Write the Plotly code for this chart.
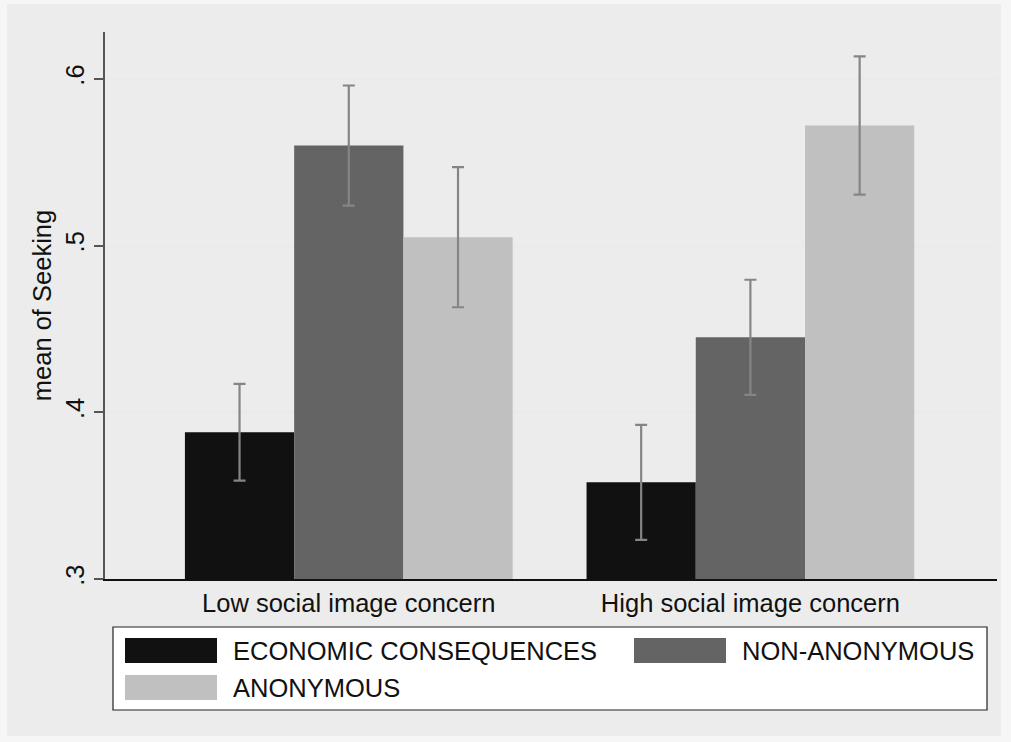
import plotly.graph_objects as go

# Data: mean of Seeking by social image concern and treatment, with CI half-widths
groups = ["Low social image concern", "High social image concern"]
series_names = ["ECONOMIC CONSEQUENCES", "NON-ANONYMOUS", "ANONYMOUS"]
econ_means = [0.388, 0.358]
econ_err = [0.029, 0.0345]
nonanon_means = [0.560, 0.445]
nonanon_err = [0.036, 0.0345]
anon_means = [0.505, 0.572]
anon_err = [0.042, 0.0415]

y_ticks = [0.3, 0.4, 0.5, 0.6]
y_tick_labels = [".3", ".4", ".5", ".6"]

colors = ["#111111", "#646464", "#c0c0c0"]
means = [econ_means, nonanon_means, anon_means]
errs = [econ_err, nonanon_err, anon_err]

W, H = 1011, 742
ML, MR, MT, MB = 105, 14, 32, 163
PW, PH = W - ML - MR, H - MT - MB
FONT = "Liberation Sans, Arial, sans-serif"
FS = 25.5

fig = go.Figure()
for name, m, e, c in zip(series_names, means, errs, colors):
    fig.add_trace(go.Bar(
        x=groups, y=m, name=name, marker=dict(color=c, line=dict(width=0)),
        error_y=dict(type="data", array=e, visible=True, color="#858585",
                     thickness=2.2, width=6),
        showlegend=False,
    ))


def px_x(px):
    return (px - ML) / PW


def px_y(py):
    return (H - MB - py) / PH


shapes = [
    # outer gray panel
    dict(type="rect", xref="paper", yref="paper", x0=px_x(7), x1=px_x(1001),
         y0=px_y(736), y1=px_y(4), fillcolor="#ececec", line=dict(width=0),
         layer="below"),
    # legend frame
    dict(type="rect", xref="paper", yref="paper", x0=px_x(113), x1=px_x(987),
         y0=px_y(710), y1=px_y(627), fillcolor="white",
         line=dict(color="#222222", width=1.2), layer="below"),
]
annotations = []

# legend entries: (swatch left, swatch top) per series
legend_pos = [(125, 638), (634, 638), (125, 675)]
for (sx, sy), name, c in zip(legend_pos, series_names, colors):
    shapes.append(dict(type="rect", xref="paper", yref="paper",
                       x0=px_x(sx), x1=px_x(sx + 92), y0=px_y(sy + 25), y1=px_y(sy),
                       fillcolor=c, line=dict(width=0)))
    annotations.append(dict(xref="paper", yref="paper", x=px_x(sx + 106),
                            y=px_y(sy + 12.5), text=name, showarrow=False,
                            xanchor="left", yanchor="middle",
                            font=dict(family=FONT, size=FS, color="#111111")))

fig.update_layout(
    width=W, height=H,
    margin=dict(l=ML, r=MR, t=MT, b=MB, autoexpand=False),
    paper_bgcolor="#f6f6f6", plot_bgcolor="white",
    barmode="group", bargap=0.184, bargroupgap=0,
    font=dict(family=FONT, size=FS, color="#111111"),
    shapes=shapes, annotations=annotations,
    xaxis=dict(range=[-0.607, 1.614], showgrid=False, ticks="",
               showline=True, linecolor="#111111", linewidth=2,
               tickfont=dict(size=FS), ticklabelstandoff=0),
    yaxis=dict(range=[0.3, 0.6281], tickvals=y_ticks, ticktext=y_tick_labels,
               tickangle=-90, ticks="outside", ticklen=9, tickcolor="#555555",
               tickwidth=1.5, showline=True, linecolor="#555555", linewidth=1.5,
               showgrid=True, gridcolor="#eaeaea", gridwidth=1.5,
               zeroline=False, tickfont=dict(size=FS),
               title=dict(text="mean of Seeking", font=dict(size=FS), standoff=2)),
)

fig.write_html("out.html")
